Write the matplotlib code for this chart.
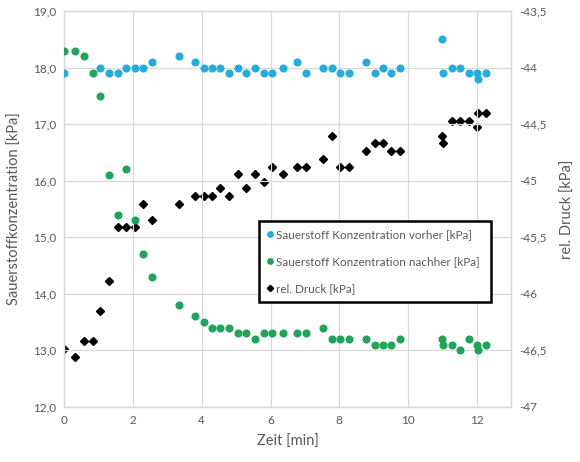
import numpy as np
import matplotlib
matplotlib.use("Agg")
import matplotlib.pyplot as plt
from matplotlib.ticker import FuncFormatter, MultipleLocator

plt.rcParams['font.family'] = ['Lato', 'DejaVu Sans']

nan = np.nan
zeit = [0, 0.32, 0.57, 0.82, 1.05, 1.3, 1.55, 1.8, 2.07, 2.29, 2.54,
        3.35, 3.81, 4.06, 4.29, 4.54, 4.79, 5.04, 5.29, 5.55, 5.8, 6.05,
        6.37, 6.78, 7.04, 7.54, 7.78, 8.03, 8.28, 8.78, 9.03, 9.27, 9.52, 9.78,
        10.99, 11.03, 11.28, 11.52, 11.77, 12.02, 12.04, 12.28]
vorher = [17.9, nan, nan, nan, 18.0, 17.9, 17.9, 18.0, 18.0, 18.0, 18.1,
          18.2, 18.1, 18.0, 18.0, 18.0, 17.9, 18.0, 17.9, 18.0, 17.9, 17.9,
          18.0, 18.1, 17.9, 18.0, 18.0, 17.9, 17.9, 18.1, 17.9, 18.0, 17.9, 18.0,
          18.5, 17.9, 18.0, 18.0, 17.9, 17.9, 17.8, 17.9]
nachher = [18.3, 18.3, 18.2, 17.9, 17.5, 16.1, 15.4, 16.2, 15.3, 14.7, 14.3,
           13.8, 13.6, 13.5, 13.4, 13.4, 13.4, 13.3, 13.3, 13.2, 13.3, 13.3,
           13.3, 13.3, 13.3, 13.4, 13.2, 13.2, 13.2, 13.2, 13.1, 13.1, 13.1, 13.2,
           13.2, 13.1, 13.1, 13.0, 13.2, 13.1, 13.0, 13.1]
druck = [-46.49, -46.56, -46.42, -46.42, -46.15, -45.89, -45.41, -45.41, -45.41, -45.21, -45.35,
         -45.21, -45.14, -45.14, -45.14, -45.07, -45.14, -44.94, -45.07, -44.94, -45.01, -44.88,
         -44.94, -44.88, -44.88, -44.81, -44.61, -44.88, -44.88, -44.74, -44.67, -44.67, -44.74, -44.74,
         -44.61, -44.67, -44.47, -44.47, -44.47, -44.53, -44.40, -44.40]

labels = ["Sauerstoff Konzentration vorher [kPa]",
          "Sauerstoff Konzentration nachher [kPa]",
          "rel. Druck [kPa]"]

gray = "#595959"
gridc = "#d9d9d9"
blue = "#22ade0"
green = "#1ea557"

fig = plt.figure(figsize=(5.8, 4.62), dpi=100)
ax = fig.add_axes([0.111, 0.1197, 0.770, 0.8565])
ax2 = ax.twinx()

h1, = ax.plot(zeit, vorher, 'o', color=blue, ms=4.8, mec=blue, label=labels[0], zorder=3)
h2, = ax.plot(zeit, nachher, 'o', color=green, ms=4.8, mec=green, label=labels[1], zorder=3)
h3, = ax2.plot(zeit, druck, 'D', color='black', ms=4.0, label=labels[2], zorder=3)

ax.set_xlim(0, 13)
ax.set_ylim(12, 19)
ax2.set_ylim(-47, -43.5)
ax.xaxis.set_major_locator(MultipleLocator(2))
ax.yaxis.set_major_locator(MultipleLocator(1))
ax2.yaxis.set_major_locator(MultipleLocator(0.5))

ax.yaxis.set_major_formatter(FuncFormatter(lambda v, p: f"{v:.1f}".replace('.', ',')))
def rfmt(v, p):
    s = f"{v:.1f}"
    if s.endswith(".0"):
        s = s[:-2]
    return s.replace('.', ',')
ax2.yaxis.set_major_formatter(FuncFormatter(rfmt))

ax.grid(True, color=gridc, lw=0.9)
ax.set_axisbelow(True)
for a in (ax, ax2):
    for s in a.spines.values():
        s.set_color(gridc)
        s.set_linewidth(0.9)
    a.tick_params(length=0, colors=gray, labelsize=8.5, pad=6)

ax.set_xlabel("Zeit [min]", color=gray, fontsize=10.5, labelpad=6)
ax.set_ylabel("Sauerstoffkonzentration [kPa]", color=gray, fontsize=10.5, labelpad=8)
ax2.set_ylabel("rel. Druck [kPa]", color=gray, fontsize=10.5, labelpad=10)

leg = ax.legend(handles=[h1, h2, h3], loc='center', bbox_to_anchor=(0.436, 0.262, 0.519, 0.21),
                mode='expand', frameon=True, fancybox=False, fontsize=8.4, framealpha=1.0,
                handlelength=0.5, handletextpad=0.25, markerscale=0.8,
                borderpad=0.7, labelspacing=1.35, borderaxespad=0.0, labelcolor=gray)
leg.get_frame().set_edgecolor('black')
leg.get_frame().set_linewidth(1.8)
leg.set_zorder(10)
ax.set_zorder(ax2.get_zorder() + 1)
ax.patch.set_visible(False)

fig.savefig("out.png", dpi=100)
